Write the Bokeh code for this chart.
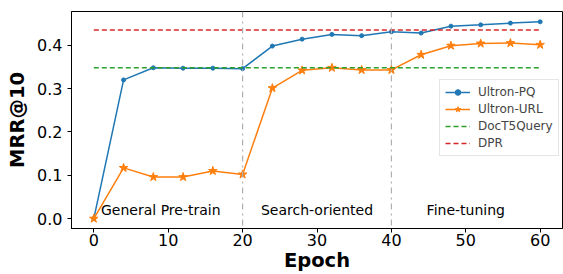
from bokeh.plotting import figure
from bokeh.models import Span, Legend, LegendItem, FixedTicker, Range1d, ColumnDataSource, Label
from bokeh.embed import file_html
from bokeh.resources import INLINE

epochs = [0, 4, 8, 12, 16, 20, 24, 28, 32, 36, 40, 44, 48, 52, 56, 60]
ultron_pq = [0.0, 0.320, 0.348, 0.347, 0.347, 0.346, 0.398, 0.414, 0.425, 0.422, 0.431, 0.428, 0.444, 0.447, 0.451, 0.454]
ultron_url = [0.0, 0.117, 0.096, 0.096, 0.110, 0.102, 0.301, 0.342, 0.348, 0.343, 0.343, 0.378, 0.399, 0.404, 0.405, 0.401]
doct5query = 0.348
dpr = 0.435
stage_bounds = [20, 40]
stage_names = ["General Pre-train", "Search-oriented", "Fine-tuning"]
stage_label_x = [9, 30, 50]
x_ticks = [0, 10, 20, 30, 40, 50, 60]
y_ticks = [0.0, 0.1, 0.2, 0.3, 0.4]

FONT = "DejaVu Sans"
BLUE = "#1f77b4"
ORANGE = "#ff7f0e"
GREEN = "#2ca02c"
RED = "#d62728"

p = figure(width=563, height=274, output_backend="svg", toolbar_location=None,
           x_range=Range1d(-3, 63), y_range=Range1d(-0.0228, 0.4778),
           min_border_left=71, min_border_right=1, min_border_top=11, min_border_bottom=46)
p.xgrid.visible = False
p.ygrid.visible = False
p.outline_line_color = "black"
p.outline_line_width = 1
p.background_fill_color = "white"
p.border_fill_color = "white"

for ax in (p.xaxis[0], p.yaxis[0]):
    ax.axis_line_color = "black"
    ax.major_tick_line_color = "black"
    ax.major_tick_out = 4
    ax.major_tick_in = 0
    ax.minor_tick_line_color = None
    ax.major_label_text_font = FONT
    ax.major_label_text_font_size = "16px"
    ax.major_label_text_color = "black"
    ax.axis_label_text_font = FONT
    ax.axis_label_text_font_size = "19.5px"
    ax.axis_label_text_font_style = "bold"
    ax.axis_label_text_color = "black"

p.xaxis.ticker = FixedTicker(ticks=x_ticks)
p.yaxis.ticker = FixedTicker(ticks=y_ticks)
p.yaxis.major_label_overrides = {t: f"{t:.1f}" for t in y_ticks}
p.xaxis.axis_label = "Epoch"
p.yaxis.axis_label = "MRR@10"
p.xaxis.major_label_standoff = 1
p.yaxis.major_label_standoff = 5
p.xaxis.axis_label_standoff = 0
p.yaxis.axis_label_standoff = 5

for b in stage_bounds:
    p.add_layout(Span(location=b, dimension="height", line_color="#b0b0b0",
                      line_dash="dashdot", line_width=1.2))

src = ColumnDataSource(dict(x=epochs, pq=ultron_pq, url=ultron_url))
l_pq = p.line("x", "pq", source=src, line_color=BLUE, line_width=1.5)
s_pq = p.scatter("x", "pq", source=src, marker="circle", size=4, color=BLUE)
l_url = p.line("x", "url", source=src, line_color=ORANGE, line_width=1.5)
s_url = p.scatter("x", "url", source=src, marker="star", size=9, color=ORANGE)
l_doc = p.line([epochs[0], epochs[-1]], [doct5query, doct5query], line_color=GREEN,
               line_width=1.5, line_dash="5 3")
l_dpr = p.line([epochs[0], epochs[-1]], [dpr, dpr], line_color=RED,
               line_width=1.5, line_dash="5 3")

for name, xx in zip(stage_names, stage_label_x):
    p.add_layout(Label(x=xx, y=0.019, text=name, text_font=FONT, text_font_size="14px",
                       text_align="center", text_baseline="middle", text_color="black"))

legend = Legend(items=[
    LegendItem(label="Ultron-PQ", renderers=[l_pq, s_pq]),
    LegendItem(label="Ultron-URL", renderers=[l_url, s_url]),
    LegendItem(label="DocT5Query", renderers=[l_doc]),
    LegendItem(label="DPR", renderers=[l_dpr]),
], location=(368, 72))
legend.label_text_font = FONT
legend.label_text_font_size = "12px"
legend.label_height = 14
legend.glyph_height = 14
legend.glyph_width = 25
legend.label_standoff = 8
legend.spacing = 3
legend.padding = 5
legend.margin = 0
legend.border_line_color = "#cccccc"
legend.border_line_width = 1
legend.background_fill_alpha = 0.8
p.add_layout(legend)

open("out.html", "w").write(file_html(p, INLINE))
